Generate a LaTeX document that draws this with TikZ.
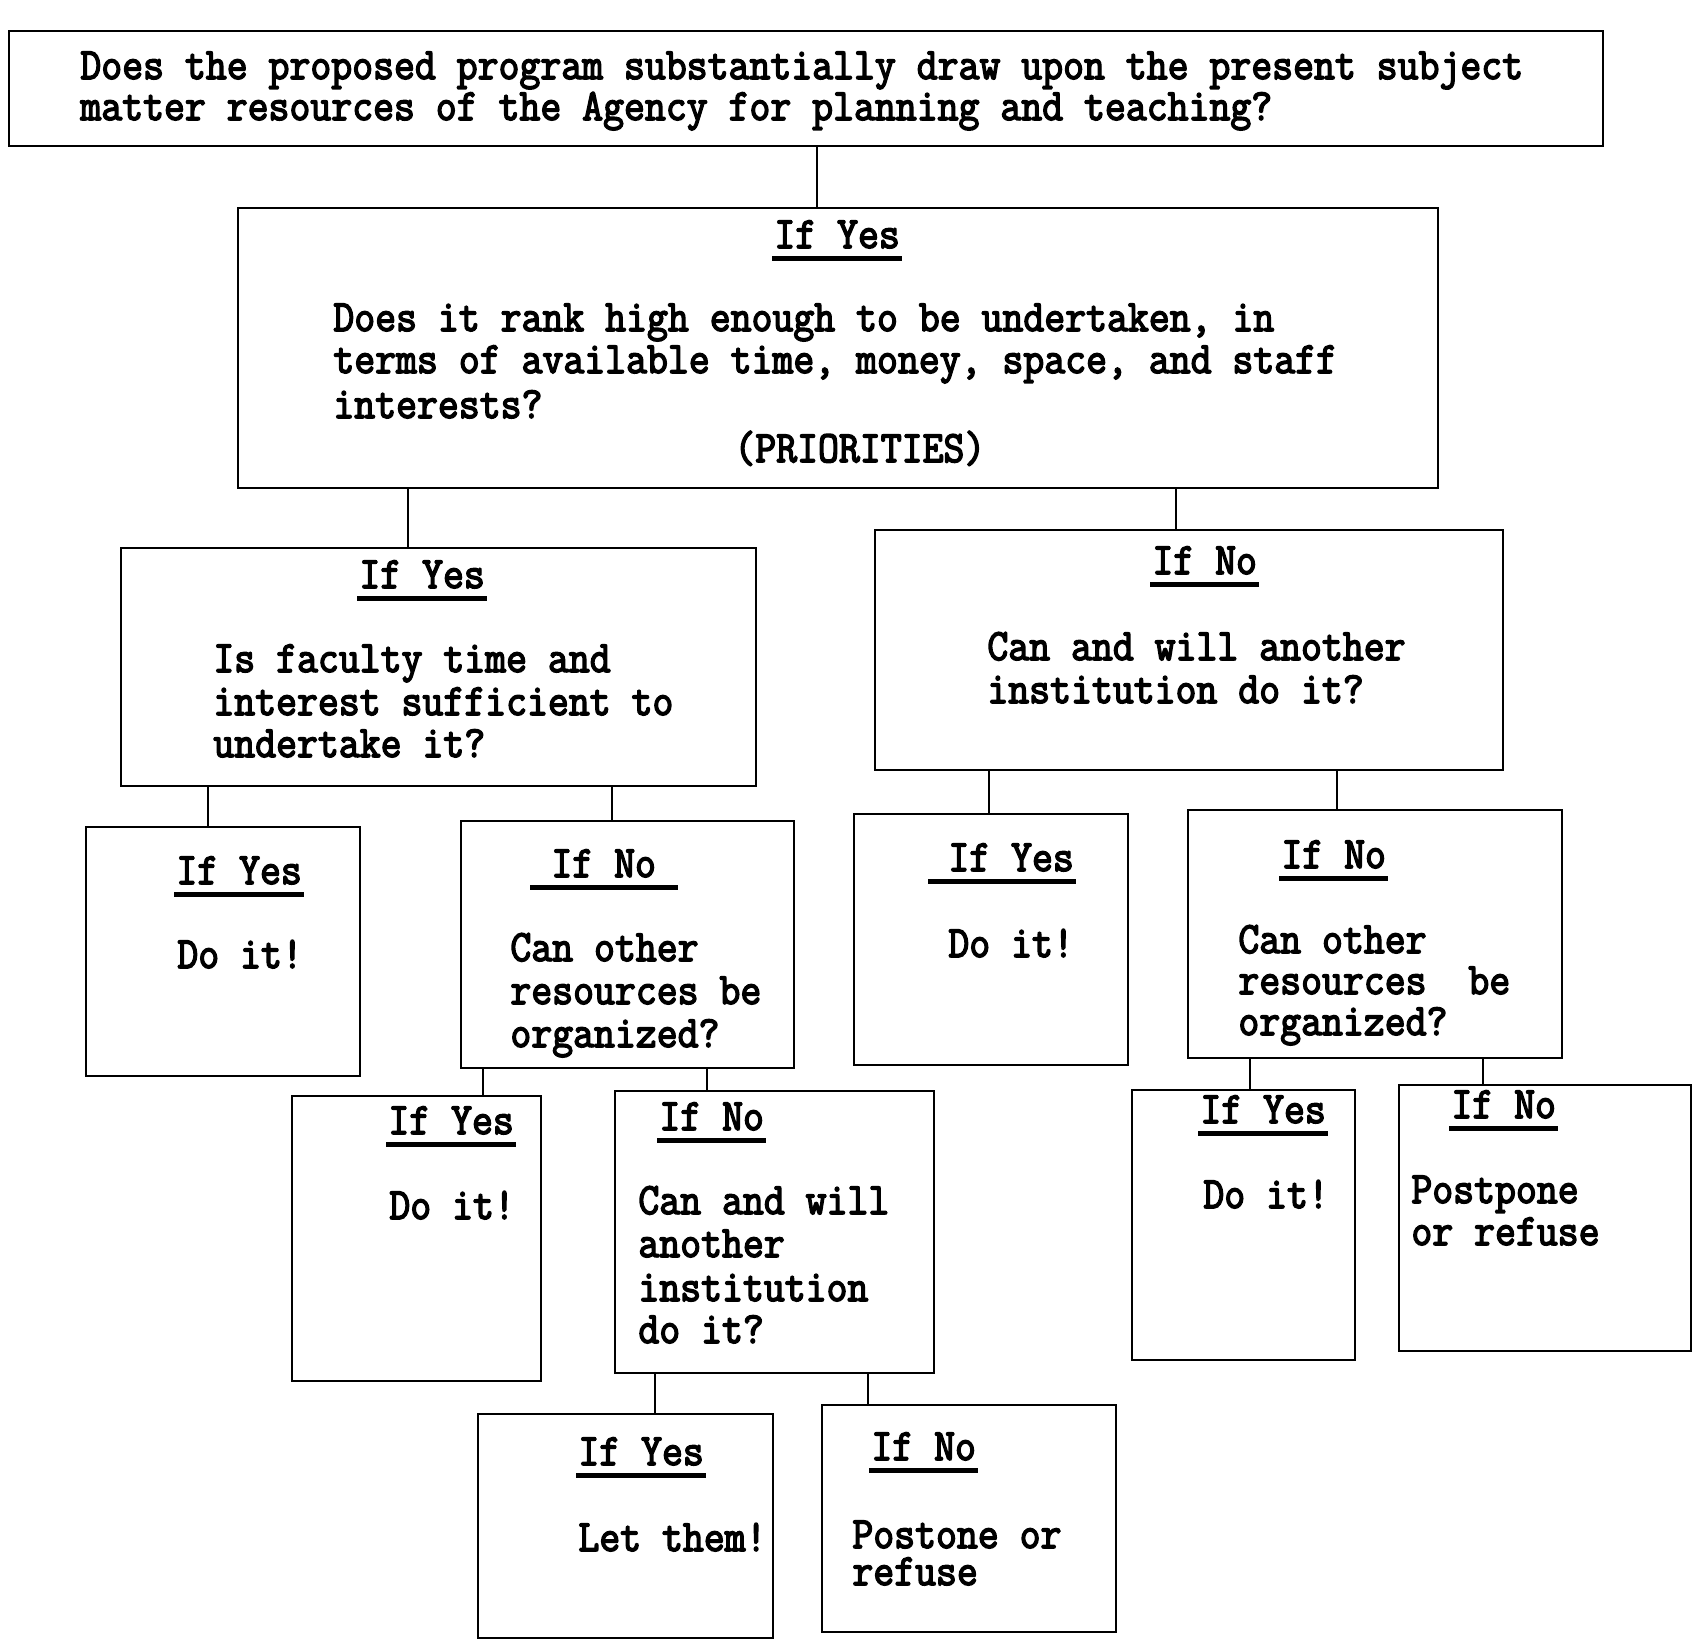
\documentclass[tikz,border=0pt]{standalone}
\usepackage{fontspec}
\newfontfamily\typew{Latin Modern Mono}[FakeBold=3.5]
\usetikzlibrary{fit}
\newcommand\tw[1]{\scalebox{1}[1.1]{#1}}
\newcommand\ulx[3]{\leavevmode\setbox0\hbox{#3}\kern-#1\rlap{\rule[-6pt]{\dimexpr\wd0+#1+#2\relax}{2.4pt}}\kern#1\box0}
\newcommand\ul[1]{\ulx{1pt}{1pt}{#1}}
\tikzset{
  box/.style={draw, line width=1.4pt, inner sep=0pt},
  conn/.style={line width=1.4pt},
  txt/.style={anchor=base west, inner sep=0pt, font=\typew\fontsize{20.3}{24}\selectfont},
}
\newcommand\tl[4]{\node[txt] (#1) at (#2,#3) {\tw{#4}};}
\newcommand\bx[5]{\node[box, fit={(#2,#3) (#4,#5)}] (#1) {};}
\begin{document}
\begin{tikzpicture}[x=0.5pt,y=-0.5pt]
\fill[white] (0,0) rectangle (1698,1641);
\useasboundingbox (0,0) rectangle (1698,1641);
% boxes
\bx{b1}{9}{31}{1603}{146}
\bx{b2}{238}{208}{1438}{488}
\bx{b3}{121}{548}{756}{786}
\bx{b4}{875}{530}{1503}{770}
\bx{b5}{86}{827}{360}{1076}
\bx{b6}{461}{821}{794}{1068}
\bx{b7}{854}{814}{1128}{1065}
\bx{b8}{1188}{810}{1562}{1058}
\bx{b9}{292}{1096}{541}{1381}
\bx{b10}{615}{1091}{934}{1373}
\bx{b11}{1132}{1090}{1355}{1360}
\bx{b12}{1399}{1085}{1691}{1351}
\bx{b13}{478}{1414}{773}{1638}
\bx{b14}{822}{1405}{1116}{1632}
% connector positions
\coordinate (k1) at (817,0);
\coordinate (k2) at (408,0);
\coordinate (k3) at (1176,0);
\coordinate (k4) at (208,0);
\coordinate (k5) at (612,0);
\coordinate (k6) at (989,0);
\coordinate (k7) at (1337,0);
\coordinate (k8) at (483,0);
\coordinate (k9) at (707,0);
\coordinate (k10) at (1250,0);
\coordinate (k11) at (1483,0);
\coordinate (k12) at (655,0);
\coordinate (k13) at (868,0);
\draw[conn] (b1.south -| k1) -- (b2.north -| k1);
\draw[conn] (b2.south -| k2) -- (b3.north -| k2);
\draw[conn] (b2.south -| k3) -- (b4.north -| k3);
\draw[conn] (b3.south -| k4) -- (b5.north -| k4);
\draw[conn] (b3.south -| k5) -- (b6.north -| k5);
\draw[conn] (b4.south -| k6) -- (b7.north -| k6);
\draw[conn] (b4.south -| k7) -- (b8.north -| k7);
\draw[conn] (b6.south -| k8) -- (b9.north -| k8);
\draw[conn] (b6.south -| k9) -- (b10.north -| k9);
\draw[conn] (b8.south -| k10) -- (b11.north -| k10);
\draw[conn] (b8.south -| k11) -- (b12.north -| k11);
\draw[conn] (b10.south -| k12) -- (b13.north -| k12);
\draw[conn] (b10.south -| k13) -- (b14.north -| k13);
% texts
\tl{t1a}{80}{79}{Does the proposed program substantially draw upon the present subject}
\tl{t1b}{80}{120}{matter resources of the Agency for planning and teaching?}
\tl{h2}{774}{248}{\ul{If Yes}}
\tl{t2a}{333}{331}{Does it rank high enough to be undertaken, in}
\tl{t2b}{333}{373}{terms of available time, money, space, and staff}
\tl{t2c}{333}{418}{interests?}
\tl{t2d}{734}{462}{(PRIORITIES)}
\tl{h3}{359}{588}{\ul{If Yes}}
\tl{t3a}{213}{672}{Is faculty time and}
\tl{t3b}{213}{715}{interest sufficient to}
\tl{t3c}{213}{757}{undertake it?}
\tl{h4}{1152}{574}{\ul{If No}}
\tl{t4a}{987}{660}{Can and will another}
\tl{t4b}{987}{703}{institution do it?}
\tl{h5}{176}{884}{\ul{If Yes}}
\tl{t5a}{177}{968}{Do it!}
\tl{h6}{551}{877}{\ulx{10.5pt}{11pt}{If No}}
\tl{t6a}{510}{961}{Can other}
\tl{t6b}{510}{1004}{resources be}
\tl{t6c}{510}{1047}{organized?}
\tl{h7}{948}{871}{\ulx{10pt}{1pt}{If Yes}}
\tl{t7a}{948}{957}{Do it!}
\tl{h8}{1281}{868}{\ul{If No}}
\tl{t8a}{1238}{953}{Can other}
\tl{t8b}{1238}{994}{resources~~be}
\tl{t8c}{1238}{1035}{organized?}
\tl{h9}{388}{1134}{\ul{If Yes}}
\tl{t9a}{389}{1219}{Do it!}
\tl{h10}{659}{1130}{\ul{If No}}
\tl{t10a}{638}{1214}{Can and will}
\tl{t10b}{638}{1257}{another}
\tl{t10c}{638}{1301}{institution}
\tl{t10d}{638}{1343}{do it?}
\tl{h11}{1200}{1123}{\ul{If Yes}}
\tl{t11a}{1203}{1208}{Do it!}
\tl{h12}{1451}{1118}{\ul{If No}}
\tl{t12a}{1411}{1203}{Postpone}
\tl{t12b}{1411}{1245}{or refuse}
\tl{h13}{578}{1465}{\ul{If Yes}}
\tl{t13a}{578}{1551}{Let them!}
\tl{h14}{871}{1460}{\ul{If No}}
\tl{t14a}{852}{1548}{Postone or}
\tl{t14b}{852}{1585}{refuse}
\end{tikzpicture}
\end{document}
